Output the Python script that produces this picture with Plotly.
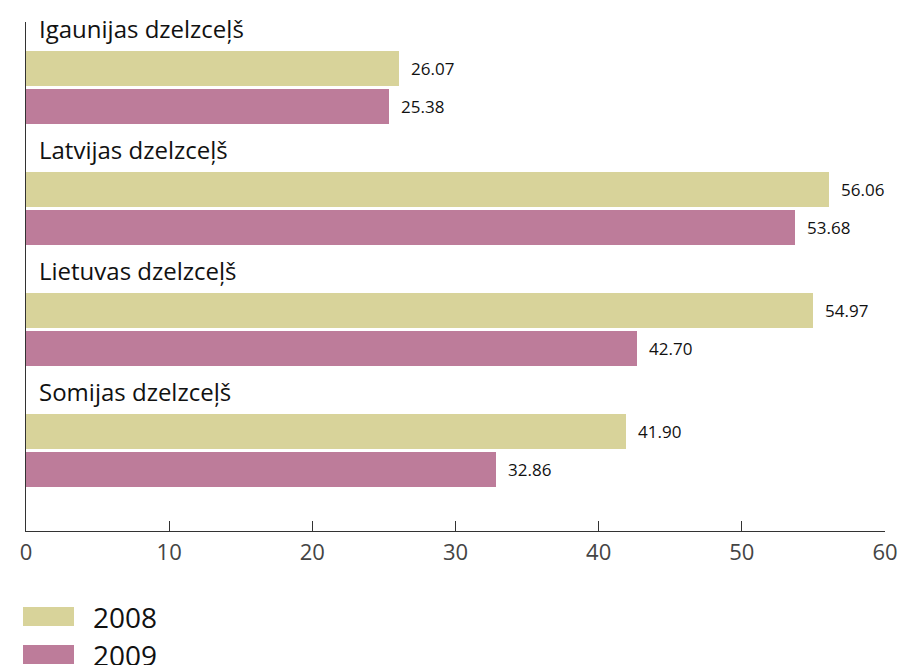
import plotly.graph_objects as go

categories = ["Igaunijas dzelzceļš", "Latvijas dzelzceļš", "Lietuvas dzelzceļš", "Somijas dzelzceļš"]
series_names = ["2008", "2009"]
values_2008 = [26.07, 56.06, 54.97, 41.90]
values_2009 = [25.38, 53.68, 42.70, 32.86]
tick_values = [0, 10, 20, 30, 40, 50, 60]
tick_labels = ["0", "10", "20", "30", "40", "50", "60"]

colors = ["#d8d39a", "#bd7c9a"]
FONT = "Open Sans"

W, H = 903, 665
ML, MR, MT, MB = 26, 18, 22, 134
PW = W - ML - MR
PH = H - MT - MB

# vertical layout in pixel-like units (y axis reversed, 0 at top of plot area)
GROUP_STEP = 121
OFF_2008 = 46.5
OFF_2009 = 84.5
OFF_LABEL = 6
BAR_W = 35

y_2008 = [OFF_2008 + GROUP_STEP * i for i in range(len(categories))]
y_2009 = [OFF_2009 + GROUP_STEP * i for i in range(len(categories))]
y_label = [OFF_LABEL + GROUP_STEP * i for i in range(len(categories))]

fig = go.Figure()
for name, vals, ys, col in [(series_names[0], values_2008, y_2008, colors[0]),
                            (series_names[1], values_2009, y_2009, colors[1])]:
    fig.add_trace(go.Bar(
        x=vals, y=ys, orientation="h", width=BAR_W, name=name,
        marker=dict(color=col, line=dict(width=0)),
        showlegend=False, hoverinfo="x",
    ))

annotations = []
for cat, yl in zip(categories, y_label):
    annotations.append(dict(x=0, y=yl, xref="x", yref="y", text=cat, showarrow=False,
                            xanchor="left", yanchor="middle", xshift=11,
                            font=dict(family=FONT, size=24, color="#111")))
for vals, ys in [(values_2008, y_2008), (values_2009, y_2009)]:
    for v, yy in zip(vals, ys):
        annotations.append(dict(x=v, y=yy, xref="x", yref="y", text=f"{v:.2f}", showarrow=False,
                                xanchor="left", yanchor="middle", xshift=10,
                                font=dict(family=FONT, size=17, color="#111")))

def px_x(p):
    return (p - ML) / PW

def px_y(p):
    return (MT + PH - p) / PH

shapes = []
legend_tops = [607, 645]
for name, col, top in zip(series_names, colors, legend_tops):
    shapes.append(dict(type="rect", xref="paper", yref="paper",
                       x0=px_x(23), x1=px_x(74), y0=px_y(top), y1=px_y(top + 19),
                       fillcolor=col, line=dict(width=0)))
    annotations.append(dict(x=px_x(91), y=px_y(top + 10), xref="paper", yref="paper",
                            text=name, showarrow=False, xanchor="left", yanchor="middle",
                            font=dict(family=FONT, size=28, color="#111")))

fig.update_layout(
    width=W, height=H,
    margin=dict(l=ML, r=MR, t=MT, b=MB, pad=0),
    paper_bgcolor="white", plot_bgcolor="white",
    bargap=0, barmode="overlay",
    xaxis=dict(range=[0, 60], tickvals=tick_values, ticktext=tick_labels,
               ticks="inside", ticklen=10, tickwidth=1, tickcolor="#333",
               showline=True, linecolor="#333", linewidth=1.2,
               showgrid=False, zeroline=False, automargin=False,
               tickfont=dict(family=FONT, size=22, color="#444"),
               ticklabelstandoff=1, fixedrange=True),
    yaxis=dict(range=[PH, 0], showticklabels=False, ticks="",
               showline=True, linecolor="#333", linewidth=1.2,
               showgrid=False, zeroline=False, automargin=False, fixedrange=True),
    annotations=annotations,
    shapes=shapes,
)

fig.write_html(
    "out.html",
    config={"displayModeBar": False, "staticPlot": True},
    post_script="document.body.style.margin='0';document.body.style.overflow='hidden';",
)
